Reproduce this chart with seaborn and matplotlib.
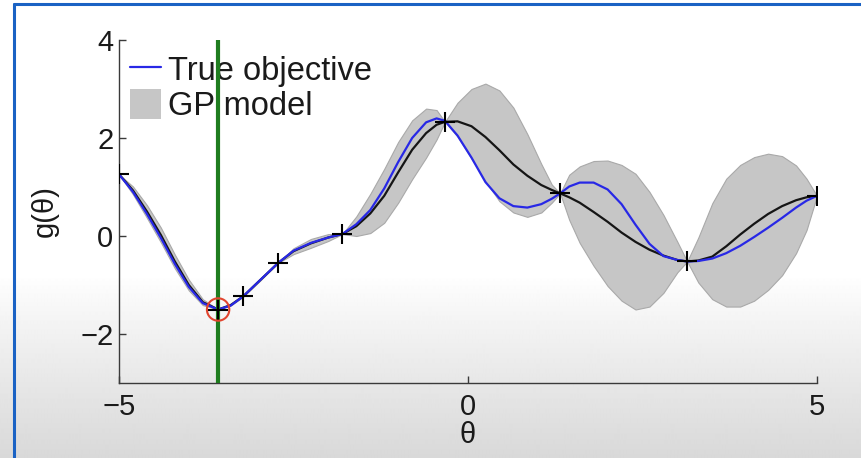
import numpy as np
import pandas as pd
import seaborn as sns
import matplotlib
matplotlib.use("Agg")
import matplotlib.pyplot as plt
from matplotlib.lines import Line2D
from matplotlib.patches import Patch

# ---- data -------------------------------------------------------------
# evaluation grid for the model curves
theta = [-5.00, -4.80, -4.60, -4.40, -4.20, -4.00, -3.80, -3.58,
         -3.40, -3.22, -2.97, -2.72,
         -2.50, -2.25, -2.00, -1.80,
         -1.60, -1.40, -1.20, -1.00, -0.80, -0.60, -0.45, -0.33,
         -0.15, 0.05, 0.25, 0.45, 0.65, 0.85, 1.05, 1.20, 1.32,
         1.45, 1.60, 1.80, 2.00, 2.20, 2.40, 2.60, 2.80, 3.00, 3.14,
         3.30, 3.50, 3.70, 3.90, 4.10, 4.30, 4.50, 4.70, 4.85, 5.00]

# true objective g(theta)
true_obj = [1.26, 0.90, 0.45, -0.04, -0.57, -1.04, -1.37, -1.50,
            -1.42, -1.23, -0.89, -0.55,
            -0.30, -0.14, -0.03, 0.04,
            0.24, 0.53, 0.97, 1.51, 2.00, 2.32, 2.40, 2.35,
            2.05, 1.60, 1.10, 0.77, 0.61, 0.58, 0.65, 0.76, 0.87,
            1.01, 1.09, 1.09, 0.95, 0.65, 0.23, -0.16, -0.41, -0.49, -0.52,
            -0.51, -0.46, -0.35, -0.20, -0.02, 0.17, 0.37, 0.58, 0.72, 0.82]

# GP posterior mean
gp_mean = [1.26, 0.93, 0.50, 0.02, -0.52, -1.00, -1.35, -1.50,
           -1.41, -1.23, -0.89, -0.55,
           -0.31, -0.15, -0.03, 0.04,
           0.20, 0.46, 0.82, 1.30, 1.76, 2.10, 2.27, 2.33,
           2.34, 2.24, 2.02, 1.75, 1.46, 1.23, 1.04, 0.94, 0.87,
           0.79, 0.68, 0.49, 0.29, 0.07, -0.12, -0.28, -0.40, -0.49, -0.52,
           -0.50, -0.42, -0.21, 0.03, 0.25, 0.45, 0.61, 0.73, 0.79, 0.82]

# GP confidence band
gp_upper = [1.26, 1.01, 0.63, 0.17, -0.38, -0.89, -1.29, -1.50,
            -1.40, -1.22, -0.88, -0.55,
            -0.25, -0.06, 0.04, 0.04,
            0.40, 0.86, 1.37, 1.92, 2.36, 2.60, 2.57, 2.33,
            2.72, 3.00, 3.11, 2.97, 2.62, 2.08, 1.47, 1.05, 0.87,
            1.25, 1.42, 1.53, 1.54, 1.45, 1.27, 0.90, 0.43, -0.12, -0.52,
            -0.03, 0.67, 1.17, 1.45, 1.61, 1.68, 1.63, 1.44, 1.17, 0.82]

gp_lower = [1.26, 0.85, 0.37, -0.13, -0.66, -1.11, -1.41, -1.50,
            -1.42, -1.24, -0.90, -0.55,
            -0.37, -0.24, -0.10, 0.04,
            0.00, 0.06, 0.27, 0.68, 1.16, 1.60, 1.97, 2.33,
            2.03, 1.58, 1.12, 0.71, 0.48, 0.39, 0.48, 0.68, 0.87,
            0.33, -0.14, -0.61, -1.02, -1.32, -1.50, -1.44, -1.16, -0.74, -0.52,
            -0.95, -1.29, -1.44, -1.44, -1.32, -1.10, -0.80, -0.35, 0.12, 0.82]

# evaluated points
obs_theta = [-5.00, -3.58, -3.22, -2.72, -1.80, -0.33, 1.32, 3.14, 5.00]
obs_g = [1.26, -1.50, -1.23, -0.55, 0.04, 2.33, 0.87, -0.52, 0.82]

# current best point
best_theta = -3.58
best_g = -1.50

x_ticks = [-5, 0, 5]
y_ticks = [-2, 0, 2, 4]

curves = pd.DataFrame({"theta": theta, "true": true_obj, "mean": gp_mean,
                       "upper": gp_upper, "lower": gp_lower})
obs = pd.DataFrame({"theta": obs_theta, "g": obs_g})

# ---- style ------------------------------------------------------------
sns.set_theme(style="ticks")
plt.rcParams["font.family"] = ["Liberation Sans", "DejaVu Sans"]
plt.rcParams["axes.unicode_minus"] = True

W, H = 862, 458
fig = plt.figure(figsize=(W / 100, H / 100), dpi=100)
fig.patch.set_facecolor("white")

# soft grey shading towards the bottom of the canvas
bg = fig.add_axes([0, 0, 1, 1], zorder=-10)
rows = np.arange(H)
shade = np.ones(H)
start = 275
shade[start:] = 1.0 - 0.15 * ((rows[start:] - start) / (H - 1 - start)) ** 0.9
bg.imshow(np.repeat(shade[:, None], 4, axis=1), cmap="gray", vmin=0, vmax=1,
          aspect="auto", extent=[0, 1, 0, 1], interpolation="bilinear")
bg.set_axis_off()

# blue frame along top and left edge
fx = 14 / W
fy = 1 - 4 / H
fig.add_artist(Line2D([fx, 1], [fy, fy], transform=fig.transFigure,
                      color="#1a62c4", lw=2.2))
fig.add_artist(Line2D([fx, fx], [0, fy], transform=fig.transFigure,
                      color="#1a62c4", lw=2.2))

ax = fig.add_axes([119 / W, 1 - 383 / H, 698 / W, 343 / H])
ax.set_facecolor("none")

# confidence band
ax.fill_between(curves["theta"], curves["lower"], curves["upper"],
                facecolor="#c6c6c6", edgecolor="#a9a9a9", lw=0.8, zorder=1)

sns.lineplot(data=curves, x="theta", y="mean", ax=ax, color="#151515",
             lw=1.6, sort=False, zorder=2)
sns.lineplot(data=curves, x="theta", y="true", ax=ax, color="#2828e6",
             lw=1.6, sort=False, zorder=3)

ax.axvline(best_theta, color="#1f7d1f", lw=3.0, zorder=6)

sns.scatterplot(data=obs, x="theta", y="g", ax=ax, marker="+", s=220,
                color="black", linewidth=1.5, zorder=7)
ax.scatter([best_theta], [best_g], s=260, facecolors="none",
           edgecolors="#e2452f", linewidths=1.5, zorder=8)

ax.set_xlim(-5, 5)
ax.set_ylim(-3, 4)
ax.set_xticks(x_ticks)
ax.set_yticks(y_ticks)
ax.set_xticklabels([f"{t:d}".replace("-", "\u2212") for t in x_ticks])
ax.set_yticklabels([f"{t:d}".replace("-", "\u2212") for t in y_ticks])
ax.tick_params(direction="in", length=5, width=1, colors="#3a3a3a",
               labelsize=21, labelcolor="#1a1a1a")
ax.tick_params(axis="x", pad=7)
ax.tick_params(axis="y", pad=4)
for side in ("top", "right"):
    ax.spines[side].set_visible(False)
for side in ("left", "bottom"):
    ax.spines[side].set_color("#3a3a3a")
    ax.spines[side].set_linewidth(1.0)

ax.set_xlabel("\u03b8", fontsize=21, color="#1a1a1a", va="center")
ax.xaxis.set_label_coords(0.5, -0.152)
ax.set_ylabel("g(\u03b8)", fontsize=21, color="#1a1a1a", va="center")
ax.yaxis.set_label_coords(-0.106, 0.5)

handles = [Line2D([0], [0], color="#2828e6", lw=1.6),
           Patch(facecolor="#c6c6c6", edgecolor="none")]
leg = ax.legend(handles, ["True objective", "GP model"], loc="upper left",
                bbox_to_anchor=(0.0158, 0.960), frameon=False, fontsize=23.5,
                handlelength=0.95, handleheight=1.05, handletextpad=0.22,
                labelspacing=0.05, borderpad=0, borderaxespad=0)
leg.set_zorder(5)
for t in leg.get_texts():
    t.set_color("#1a1a1a")

fig.savefig("out.png", dpi=100)
